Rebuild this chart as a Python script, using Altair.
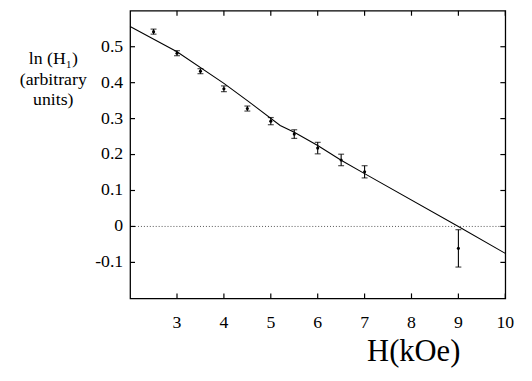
import altair as alt
import pandas as pd

# measured points (H in kOe, ln(H1) arbitrary units, error half-width)
H_vals = [2.5, 3, 3.5, 4, 4.5, 5, 5.5, 6, 6.5, 7, 9]
lnH_vals = [0.542, 0.482, 0.432, 0.383, 0.328, 0.293, 0.257, 0.218, 0.185, 0.152, -0.061]
err_vals = [0.007, 0.007, 0.007, 0.008, 0.007, 0.010, 0.012, 0.016, 0.016, 0.017, 0.052]

# fitted curve
fit_H = [2, 3, 4, 4.5, 5.2, 5.5, 6, 6.5, 7, 9, 10]
fit_ln = [0.556, 0.486, 0.398, 0.350, 0.281, 0.262, 0.225, 0.184, 0.147, 0.0, -0.075]

# ticks and their labels
x_ticks = [3, 4, 5, 6, 7, 8, 9, 10]
x_labels = ["3", "4", "5", "6", "7", "8", "9", "10"]
y_ticks = [-0.1, 0, 0.1, 0.2, 0.3, 0.4, 0.5]
y_labels = ["-0.1", "0", "0.1", "0.2", "0.3", "0.4", "0.5"]

x_title = "H(kOe)"
y_title = "ln (H\u2081)\n(arbitrary\nunits)"

W, Ht = 381, 292
FONT = "Times New Roman"

pts = pd.DataFrame({"H": H_vals, "ln": lnH_vals, "err": err_vals})
pts["lo"] = pts["ln"] - pts["err"]
pts["hi"] = pts["ln"] + pts["err"]
fit = pd.DataFrame({"H": fit_H, "ln": fit_ln})
xt = pd.DataFrame({"H": x_ticks, "lab": x_labels})
yt = pd.DataFrame({"ln": y_ticks, "lab": y_labels})
zero = pd.DataFrame({"ln": [0]})
xtit = pd.DataFrame({"t": [x_title]})
ytit = pd.DataFrame({"t": [y_title]})

xs = alt.Scale(domain=[2, 10], nice=False, zero=False)
ys = alt.Scale(domain=[-0.2, 0.6], nice=False, zero=False)


def X(field):
    return alt.X(field, scale=xs, axis=None)


def Y(field):
    return alt.Y(field, scale=ys, axis=None)


line = alt.Chart(fit).mark_line(color="black", strokeWidth=1.1).encode(
    x=X("H:Q"), y=Y("ln:Q"))

zline = alt.Chart(zero).mark_rule(color="#555", strokeWidth=1, strokeDash=[1, 2]).encode(
    y=Y("ln:Q"))

bars = alt.Chart(pts).mark_rule(color="black", strokeWidth=1.1).encode(
    x=X("H:Q"), y=Y("lo:Q"), y2="hi:Q")
cap_lo = alt.Chart(pts).mark_tick(color="black", orient="horizontal", size=6, thickness=1.2).encode(
    x=X("H:Q"), y=Y("lo:Q"))
cap_hi = alt.Chart(pts).mark_tick(color="black", orient="horizontal", size=6, thickness=1.2).encode(
    x=X("H:Q"), y=Y("hi:Q"))
dots = alt.Chart(pts).mark_circle(color="black", size=10, opacity=1).encode(
    x=X("H:Q"), y=Y("ln:Q"))

tick_style = dict(color="black", strokeWidth=1.2)
lt = alt.Chart(yt).mark_rule(**tick_style).encode(
    y=Y("ln:Q"), x=alt.value(0), x2=alt.value(5))
rt = alt.Chart(yt).mark_rule(**tick_style).encode(
    y=Y("ln:Q"), x=alt.value(W - 5), x2=alt.value(W))
bt = alt.Chart(xt).mark_rule(**tick_style).encode(
    x=X("H:Q"), y=alt.value(Ht - 5), y2=alt.value(Ht))
tt = alt.Chart(xt).mark_rule(**tick_style).encode(
    x=X("H:Q"), y=alt.value(0), y2=alt.value(5))

ylab = alt.Chart(yt).mark_text(font=FONT, fontSize=18, color="black", align="right",
                               baseline="middle").encode(
    y=Y("ln:Q"), x=alt.value(-7), text="lab:N")
xlab = alt.Chart(xt).mark_text(font=FONT, fontSize=18, color="black", align="center",
                               baseline="middle").encode(
    x=X("H:Q"), y=alt.value(Ht + 25), text="lab:N")

xtitle = alt.Chart(xtit).mark_text(
    font=FONT, fontSize=31, color="black", align="center", baseline="middle").encode(
    x=alt.value(288), y=alt.value(Ht + 55), text="t:N")
ytitle = alt.Chart(ytit).mark_text(
    font=FONT, fontSize=18, color="black", align="center", baseline="top",
    lineBreak="\n", lineHeight=21).encode(
    x=alt.value(-78), y=alt.value(40), text="t:N")

chart = alt.layer(line, zline, bars, cap_lo, cap_hi, dots, lt, rt, bt, tt,
                  ylab, xlab, xtitle, ytitle).properties(
    width=W, height=Ht,
    autosize=alt.AutoSizeParams(type="none"),
    padding={"left": 124, "top": 0, "right": 19, "bottom": 73},
).configure(
    background="white",
    font=FONT,
    view=alt.ViewConfig(stroke="black", strokeWidth=1.3),
).configure_text(font=FONT)

chart.save("out.html", embed_options={"renderer": "svg", "actions": False})
